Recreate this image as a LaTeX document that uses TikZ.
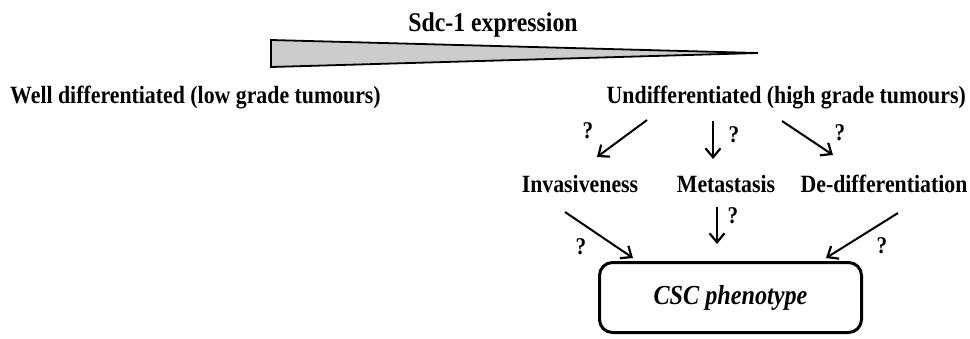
\documentclass[tikz,border=0pt]{standalone}
\usepackage{fontspec}
\setmainfont{Liberation Serif}[FakeStretch=0.88]
\usetikzlibrary{arrows.meta}
\tikzset{
  lbl/.style={font=\bfseries\fontsize{24.8}{28}\selectfont, inner sep=0pt, anchor=base},
  ttl/.style={font=\bfseries\fontsize{27}{30}\selectfont, inner sep=0pt, anchor=base},
  qm/.style={font=\bfseries\fontsize{24}{28}\selectfont, inner sep=0pt, anchor=base},
  arr/.style={line width=2pt, -{Straight Barb[length=9pt,width=15pt,line width=2.2pt]}},
  cscbox/.style={draw, line width=3pt, rounded corners=13pt, minimum width=262pt,
    minimum height=70pt, inner sep=0pt, font=\bfseries\itshape\fontsize{27.5}{32}\selectfont}
}
\begin{document}
\begin{tikzpicture}[x=1pt,y=-1pt]
\useasboundingbox (0,0) rectangle (970,338);

% Sdc-1 gradient wedge
\node[ttl] (title) at (493,31) {Sdc-1 expression};
\coordinate (wtop) at (271,40);
\coordinate (wbot) at (271,67);
\coordinate (wtip) at (758,53);
\draw[line width=1.8pt, fill=black!20, line join=miter] (wtop) -- (wtip) -- (wbot) -- cycle;

% grade labels
\node[lbl, anchor=base west] (well) at (10,103) {Well differentiated (low grade tumours)};
\node[lbl, anchor=base east] (undiff) at (966,103) {Undifferentiated (high grade tumours)};

% outcomes
\node[lbl] (inv) at (580,192) {Invasiveness};
\node[lbl] (met) at (726,192) {Metastasis};
\node[lbl] (dediff) at (884,192) {De-differentiation};

% CSC box
\node[cscbox] (csc) at (730.5,297.5) {CSC phenotype};

% arrow end points
\coordinate (a1s) at (647,120); \coordinate (a1e) at (597,157);
\coordinate (a2s) at (713,121); \coordinate (a2e) at (713,159);
\coordinate (a3s) at (782,121); \coordinate (a3e) at (833,155);
\coordinate (b1s) at (565,212); \coordinate (b1e) at (633,258);
\coordinate (b2s) at (717,207); \coordinate (b2e) at (717,244);
\coordinate (b3s) at (898,213); \coordinate (b3e) at (826,258);

\draw[arr] (a1s) -- (a1e);
\draw[arr] (a2s) -- (a2e);
\draw[arr] (a3s) -- (a3e);
\draw[arr] (b1s) -- (b1e);
\draw[arr] (b2s) -- (b2e);
\draw[arr] (b3s) -- (b3e);

% question marks
\node[qm] (q1) at (588,138) {?};
\node[qm] (q2) at (734,142) {?};
\node[qm] (q3) at (840,140) {?};
\node[qm] (q4) at (581,254) {?};
\node[qm] (q5) at (733,223) {?};
\node[qm] (q6) at (882,253) {?};
\end{tikzpicture}
\end{document}
